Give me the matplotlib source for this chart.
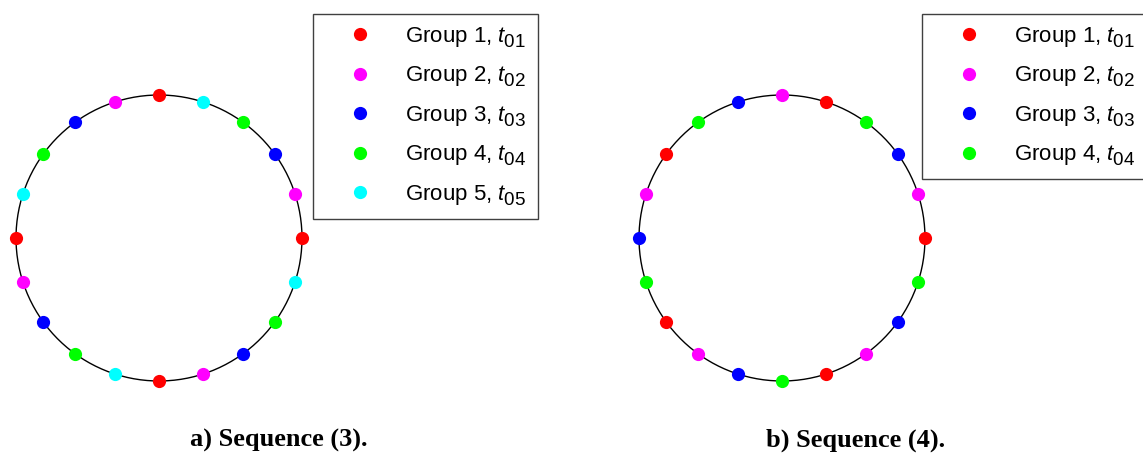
import numpy as np
import matplotlib
matplotlib.use("Agg")
import matplotlib.pyplot as plt
import matplotlib._mathtext as mathtext_internal

plt.rcParams["font.family"] = "Liberation Sans"
plt.rcParams["mathtext.fontset"] = "custom"
plt.rcParams["mathtext.rm"] = "Liberation Sans"
plt.rcParams["mathtext.it"] = "Liberation Sans:italic"
# bigger, lower subscripts for the t_0k labels
mathtext_internal.SHRINK_FACTOR = 0.85
mathtext_internal.FontConstantsBase.sub1 = 0.45

# group index of each of the 20 points, counter-clockwise starting at angle 0
seq_a = [1, 2, 3, 4, 5, 1, 2, 3, 4, 5, 1, 2, 3, 4, 5, 1, 2, 3, 4, 5]
seq_b = [1, 2, 3, 4, 1, 2, 3, 4, 1, 2, 3, 4, 1, 2, 3, 4, 1, 2, 3, 4]
group_colors = {1: "#ff0000", 2: "#ff00ff", 3: "#0000ff", 4: "#00ff00", 5: "#00ffff"}
captions = ["a) Sequence (3).", "b) Sequence (4)."]

W, H = 1143, 455
fig = plt.figure(figsize=(W / 100, H / 100), dpi=100)


def draw_panel(seq, cx, cy, legend_x, caption, caption_x):
    r = 143
    half = 150
    ax = fig.add_axes([(cx - half) / W, (H - cy - half) / H, 2 * half / W, 2 * half / H])
    ax.set_xlim(-half / r, half / r)
    ax.set_ylim(-half / r, half / r)
    ax.set_aspect("equal")
    ax.axis("off")

    t = np.linspace(0, 2 * np.pi, 400)
    ax.plot(np.cos(t), np.sin(t), color="black", lw=1.0, zorder=1, clip_on=False)

    seq = np.array(seq)
    ang = np.arange(len(seq)) * 2 * np.pi / len(seq)
    for g in sorted(set(seq)):
        m = seq == g
        ax.plot(np.cos(ang[m]), np.sin(ang[m]), "o", color=group_colors[g], ms=9.5,
                mec="none", zorder=2, clip_on=False, label=rf"Group {g}, $t_{{0{g}}}$")

    leg = ax.legend(loc="upper left", bbox_to_anchor=(legend_x / W, 1 - 14 / H),
                    bbox_transform=fig.transFigure, borderaxespad=0, fontsize=16,
                    frameon=True, fancybox=False, framealpha=1, edgecolor="#404040",
                    borderpad=0.5, handlelength=3.2, handletextpad=0.45, labelspacing=0.68)
    leg.get_frame().set_linewidth(1.0)

    fig.text(caption_x / W, 1 - 447 / H, caption, ha="center", va="baseline",
             family="Liberation Serif", weight="bold", fontsize=19)


draw_panel(seq_a, 159, 238, 313, captions[0], 279)
draw_panel(seq_b, 782, 238, 922, captions[1], 856)

fig.savefig("out.png", dpi=100)
